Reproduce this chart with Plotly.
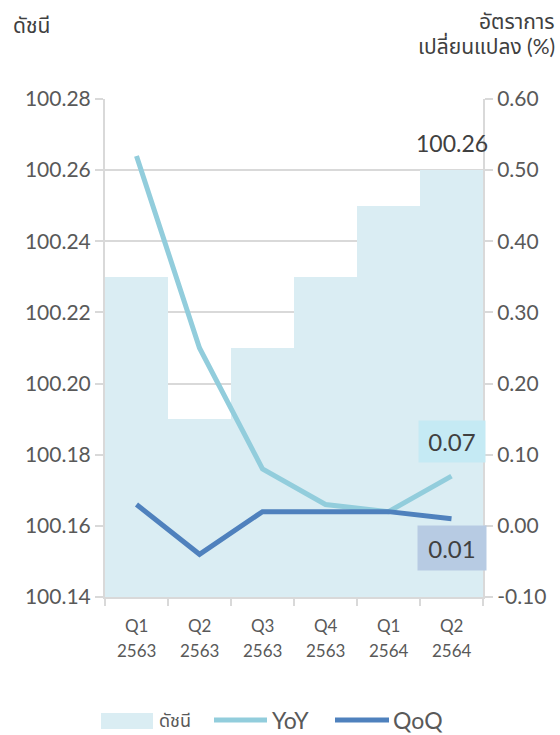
import plotly.graph_objects as go

categories = ["Q1 2563", "Q2 2563", "Q3 2563", "Q4 2563", "Q1 2564", "Q2 2564"]
index_values = [100.23, 100.19, 100.21, 100.23, 100.25, 100.26]
yoy_values = [0.52, 0.25, 0.08, 0.03, 0.02, 0.07]
qoq_values = [0.03, -0.04, 0.02, 0.02, 0.02, 0.01]
left_ticks = [100.14, 100.16, 100.18, 100.20, 100.22, 100.24, 100.26, 100.28]
right_ticks = [-0.10, 0.00, 0.10, 0.20, 0.30, 0.40, 0.50, 0.60]

BAR_C = "#daedf3"
YOY_C = "#92cddc"
QOQ_C = "#4f81bd"
TXT = "#595959"
GRID = "#d9d9d9"
FONT = "Lato, 'Noto Sans', 'Noto Sans Thai', sans-serif"

W, H = 560, 735
ml, mr, mt, mb = 105, 77, 99, 138
pw, ph = W - ml - mr, H - mt - mb


def px(x):
    return (x - ml) / pw


def py(y):
    return (H - mb - y) / ph


fig = go.Figure()
fig.add_trace(go.Bar(x=categories, y=index_values, marker=dict(color=BAR_C, line=dict(width=0)),
                     name="ดัชนี", yaxis="y", showlegend=False, hoverinfo="skip"))
fig.add_trace(go.Scatter(x=categories, y=yoy_values, mode="lines", line=dict(color=YOY_C, width=5),
                         name="YoY", yaxis="y2", showlegend=False, hoverinfo="skip"))
fig.add_trace(go.Scatter(x=categories, y=qoq_values, mode="lines", line=dict(color=QOQ_C, width=5),
                         name="QoQ", yaxis="y2", showlegend=False, hoverinfo="skip"))

annotations = [
    dict(x=categories[-1], y=index_values[-1], xref="x", yref="y", text=f"{index_values[-1]:.2f}",
         showarrow=False, yshift=27, font=dict(size=23, color="#404040", family=FONT)),
    dict(x=categories[-1], y=yoy_values[-1], xref="x", yref="y2", text=f"{yoy_values[-1]:.2f}",
         showarrow=False, yshift=35, bgcolor="#c5eaf4", width=64, height=39,
         font=dict(size=24, color="#404040", family=FONT)),
    dict(x=categories[-1], y=qoq_values[-1], xref="x", yref="y2", text=f"{qoq_values[-1]:.2f}",
         showarrow=False, yshift=-29, bgcolor="#b7cbe3", width=66, height=42,
         font=dict(size=24, color="#404040", family=FONT)),
    dict(x=px(11), y=py(25), xref="paper", yref="paper", text="ดัชนี", showarrow=False,
         xanchor="left", yanchor="middle", font=dict(size=21, color="#404040", family=FONT)),
    dict(x=px(557), y=py(20), xref="paper", yref="paper", text="อัตราการ", showarrow=False,
         xanchor="right", yanchor="middle", font=dict(size=21, color="#404040", family=FONT)),
    dict(x=px(557), y=py(45), xref="paper", yref="paper", text="เปลี่ยนแปลง (%)", showarrow=False,
         xanchor="right", yanchor="middle", font=dict(size=21, color="#404040", family=FONT)),
    dict(x=px(157), y=py(720), xref="paper", yref="paper", text="ดัชนี", showarrow=False,
         xanchor="left", yanchor="middle", font=dict(size=18, color=TXT, family=FONT)),
    dict(x=px(270), y=py(720), xref="paper", yref="paper", text="YoY", showarrow=False,
         xanchor="left", yanchor="middle", font=dict(size=23, color=TXT, family=FONT)),
    dict(x=px(391), y=py(720), xref="paper", yref="paper", text="QoQ", showarrow=False,
         xanchor="left", yanchor="middle", font=dict(size=23, color=TXT, family=FONT)),
]

# two-line category labels
for c in categories:
    q, yr = c.split(" ")
    annotations.append(dict(x=c, y=py(625), xref="x", yref="paper", text=q, showarrow=False,
                            yanchor="middle", font=dict(size=17, color=TXT, family=FONT)))
    annotations.append(dict(x=c, y=py(650), xref="x", yref="paper", text=yr, showarrow=False,
                            yanchor="middle", font=dict(size=17, color=TXT, family=FONT)))

shapes = [
    dict(type="rect", xref="paper", yref="paper", x0=px(101), x1=px(153), y0=py(713), y1=py(729),
         fillcolor=BAR_C, line=dict(width=0)),
    dict(type="line", xref="paper", yref="paper", x0=px(214), x1=px(267), y0=py(720), y1=py(720),
         line=dict(color=YOY_C, width=5)),
    dict(type="line", xref="paper", yref="paper", x0=px(335), x1=px(389), y0=py(720), y1=py(720),
         line=dict(color=QOQ_C, width=5)),
]

fig.update_layout(
    width=W, height=H,
    margin=dict(l=ml, r=mr, t=mt, b=mb),
    paper_bgcolor="white", plot_bgcolor="white",
    bargap=0,
    showlegend=False,
    hovermode=False,
    font=dict(family=FONT, color=TXT),
    xaxis=dict(
        type="category", showticklabels=False,
        showgrid=False, showline=True, linecolor=GRID, linewidth=2,
        ticks="outside", ticklen=7, tickcolor=GRID, tickwidth=2, tickson="boundaries",
        range=[-0.5, 5.5], fixedrange=True,
    ),
    yaxis=dict(
        range=[100.14, 100.28], tickvals=left_ticks, ticktext=[f"{v:.2f}" for v in left_ticks],
        tickfont=dict(size=21, color=TXT, family=FONT),
        showgrid=True, gridcolor=GRID, gridwidth=2, zeroline=False,
        showline=True, linecolor=GRID, linewidth=2,
        ticks="outside", ticklen=8, tickcolor=GRID, tickwidth=2,
    ),
    yaxis2=dict(
        range=[-0.10, 0.60], tickvals=right_ticks, ticktext=[f"{v:.2f}" for v in right_ticks],
        tickfont=dict(size=21, color=TXT, family=FONT),
        overlaying="y", side="right", showgrid=False, zeroline=False,
        showline=True, linecolor=GRID, linewidth=2,
        ticks="outside", ticklen=8, tickcolor=GRID, tickwidth=2,
    ),
    annotations=annotations,
    shapes=shapes,
)

fig.write_html("out.html", config={"displayModeBar": False, "staticPlot": True},
               post_script="document.body.style.margin='0';document.body.style.overflow='hidden';")
